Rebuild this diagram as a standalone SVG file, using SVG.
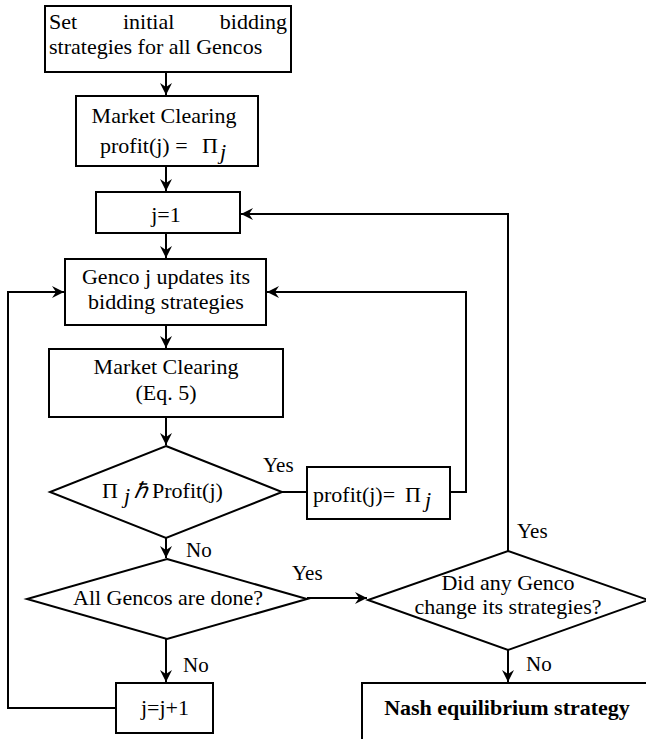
<svg xmlns="http://www.w3.org/2000/svg" width="646" height="739" viewBox="0 0 646 739">
<style>
.box{fill:#fff;stroke:#000;stroke-width:2}
.t{font-family:'Liberation Serif',serif;font-size:22px;fill:#000}
.c{text-anchor:middle}
.i{font-style:italic}
.b{font-weight:bold}
.lbl{font-family:'Liberation Serif',serif;font-size:21px;fill:#000}
.ln{fill:none;stroke:#000;stroke-width:2}
</style>
<defs>
<marker id="ah" markerUnits="userSpaceOnUse" markerWidth="14" markerHeight="12" refX="12" refY="6" orient="auto">
<path d="M0,0 L12,6 L0,12 L4,6 z" fill="#000"/>
</marker>
</defs>
<rect width="646" height="739" fill="#fff"/>
<g id="connectors">
<path class="ln" d="M166,72 V95" marker-end="url(#ah)"/>
<path class="ln" d="M166,166 V191" marker-end="url(#ah)"/>
<path class="ln" d="M166,233 V258" marker-end="url(#ah)"/>
<path class="ln" d="M166,325 V348" marker-end="url(#ah)"/>
<path class="ln" d="M166,417 V445" marker-end="url(#ah)"/>
<path class="ln" d="M166,538 V558" marker-end="url(#ah)"/>
<path class="ln" d="M166,639 V682" marker-end="url(#ah)"/>
<path class="ln" d="M282,492 H307"/>
<path class="ln" d="M450,492 H466 V292 H267" marker-end="url(#ah)"/>
<path class="ln" d="M307,598 H367" marker-end="url(#ah)"/>
<path class="ln" d="M508,650 V682" marker-end="url(#ah)"/>
<path class="ln" d="M508,551 V214 H241" marker-end="url(#ah)"/>
<path class="ln" d="M116,708 H8 V292 H64" marker-end="url(#ah)"/>
</g>
<g id="n1">
<rect class="box" x="45" y="6" width="246" height="66"/>
<text class="t" x="49" y="29">Set</text>
<text class="t" x="123" y="29">initial</text>
<text class="t" x="287" y="29" text-anchor="end">bidding</text>
<text class="t" x="49" y="54">strategies for all Gencos</text>
</g>
<g id="n2">
<rect class="box" x="76" y="96" width="182" height="70"/>
<text class="t c" x="164" y="123">Market Clearing</text>
<text class="t" x="100" y="153">profit(j) =</text>
<text class="t" x="202" y="153">Π</text>
<text class="t i" x="220" y="159" font-size="18">j</text>
</g>
<g id="n3">
<rect class="box" x="96" y="192" width="144" height="41"/>
<text class="t c" x="166" y="222">j=1</text>
</g>
<g id="n4">
<rect class="box" x="65" y="259" width="201" height="66"/>
<text class="t c" x="166" y="284">Genco j updates its</text>
<text class="t c" x="166" y="309">bidding strategies</text>
</g>
<g id="n5">
<rect class="box" x="49" y="349" width="234" height="68"/>
<text class="t c" x="166" y="374">Market Clearing</text>
<text class="t c" x="166" y="400">(Eq. 5)</text>
</g>
<g id="d1">
<polygon class="box" points="166,446 282,492 166,538 50,492"/>
<text class="t" x="102" y="498">Π</text>
<text class="t i" x="124" y="503" font-size="18">j</text>
<text class="t i" x="134" y="498" font-size="15">ℏ</text>
<text class="t" x="152" y="498">Profit(j)</text>
</g>
<g id="n6">
<rect class="box" x="307" y="467" width="143" height="52"/>
<text class="t" x="313" y="502">profit(j)=</text>
<text class="t" x="405" y="502">Π</text>
<text class="t i" x="425" y="507" font-size="18">j</text>
</g>
<g id="d2">
<polygon class="box" points="167,559 307,599 167,639 27,599"/>
<text class="t c" x="168" y="605">All Gencos are done?</text>
</g>
<g id="d3">
<polygon class="box" points="508,551 648,600 508,650 368,600"/>
<text class="t c" x="508" y="590" font-size="21">Did any Genco</text>
<text class="t c" x="508" y="614" font-size="21">change its strategies?</text>
</g>
<g id="n7">
<rect class="box" x="116" y="683" width="97" height="50"/>
<text class="t c" x="165" y="715">j=j+1</text>
</g>
<g id="n8">
<rect class="box" x="362" y="683" width="290" height="60"/>
<text class="t c b" x="507" y="715">Nash equilibrium strategy</text>
</g>
<g id="labels">
<text class="lbl" x="263" y="472">Yes</text>
<text class="lbl" x="186" y="557">No</text>
<text class="lbl" x="292" y="580">Yes</text>
<text class="lbl" x="183" y="672">No</text>
<text class="lbl" x="517" y="538">Yes</text>
<text class="lbl" x="526" y="671">No</text>
</g>
</svg>
